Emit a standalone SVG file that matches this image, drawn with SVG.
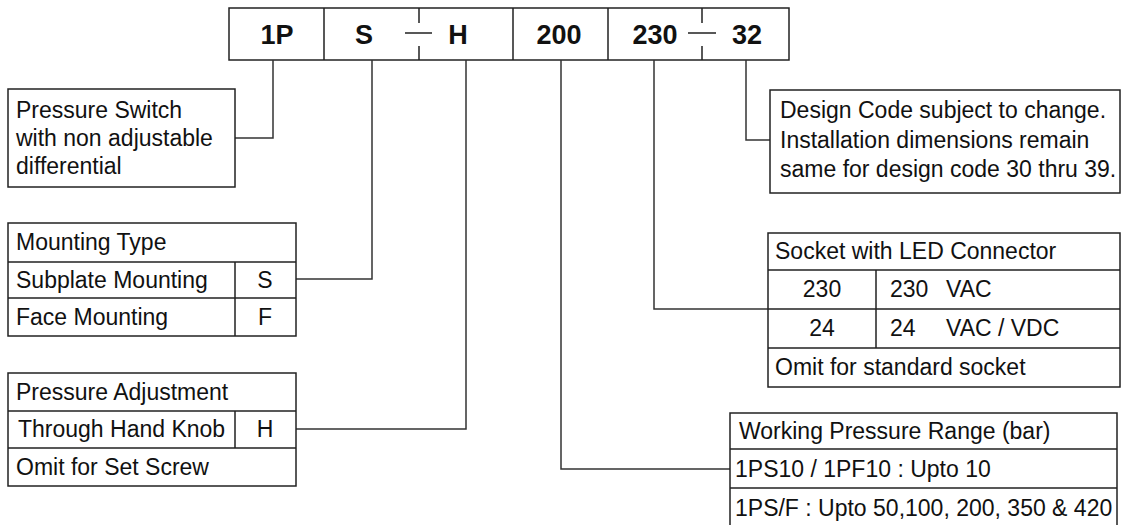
<svg xmlns="http://www.w3.org/2000/svg" width="1122" height="525" viewBox="0 0 1122 525">
<style>
.box{fill:#fff;stroke:#222;stroke-width:1.5}
.ln{fill:none;stroke:#222;stroke-width:1.5}
.cn{fill:none;stroke:#333;stroke-width:1.5}
.t{font-family:"Liberation Sans",Arial,sans-serif;font-size:23px;fill:#111}
.b{font-family:"Liberation Sans",Arial,sans-serif;font-size:27px;font-weight:bold;fill:#111;text-anchor:middle}
.m{text-anchor:middle}
</style>
<rect width="1122" height="525" fill="#fff"/>
<g id="code">
<rect class="box" x="229" y="8" width="560" height="52"/>
<path class="ln" d="M324 8V60M513 8V60M608 8V60M419 8V23M419 46V60M702 8V23M702 46V60M405 33H432M688 33H716"/>
<text class="b" x="277" y="44">1P</text>
<text class="b" x="364" y="44">S</text>
<text class="b" x="458" y="44">H</text>
<text class="b" x="559" y="44">200</text>
<text class="b" x="655" y="44">230</text>
<text class="b" x="747" y="44">32</text>
</g>
<g id="connectors">
<path class="cn" d="M273 60V138H235"/>
<path class="cn" d="M372 60V279H296"/>
<path class="cn" d="M466 60V429H296"/>
<path class="cn" d="M561 60V469H730"/>
<path class="cn" d="M654 60V309H768"/>
<path class="cn" d="M746 60V140H770"/>
</g>
<g id="pressure-switch">
<rect class="box" x="8" y="89" width="227" height="98"/>
<text class="t" x="16" y="118">Pressure Switch</text>
<text class="t" x="16" y="146">with non adjustable</text>
<text class="t" x="16" y="174">differential</text>
</g>
<g id="mounting-type">
<rect class="box" x="8" y="223" width="288" height="113"/>
<path class="ln" d="M8 262H296M8 298H296M235 262V336"/>
<text class="t" x="16" y="250">Mounting Type</text>
<text class="t" x="16" y="288">Subplate Mounting</text>
<text class="t m" x="265" y="288">S</text>
<text class="t" x="16" y="325">Face Mounting</text>
<text class="t m" x="265" y="325">F</text>
</g>
<g id="pressure-adjustment">
<rect class="box" x="8" y="373" width="288" height="113"/>
<path class="ln" d="M8 411H296M8 448H296M235 411V448"/>
<text class="t" x="16" y="400">Pressure Adjustment</text>
<text class="t" x="18" y="437">Through Hand Knob</text>
<text class="t m" x="265" y="437">H</text>
<text class="t" x="16" y="475">Omit for Set Screw</text>
</g>
<g id="design-code">
<rect class="box" x="770" y="90" width="350" height="103"/>
<text class="t" x="780" y="118">Design Code subject to change.</text>
<text class="t" x="780" y="148">Installation dimensions remain</text>
<text class="t" x="780" y="177">same for design code 30 thru 39.</text>
</g>
<g id="socket">
<rect class="box" x="768" y="233" width="352" height="154"/>
<path class="ln" d="M768 270H1120M768 309H1120M768 348H1120M876 270V348"/>
<text class="t" x="775" y="259">Socket with LED Connector</text>
<text class="t m" x="822" y="297">230</text>
<text class="t" x="890" y="297">230</text>
<text class="t" x="946" y="297">VAC</text>
<text class="t m" x="822" y="336">24</text>
<text class="t" x="890" y="336">24</text>
<text class="t" x="946" y="336">VAC / VDC</text>
<text class="t" x="775" y="375">Omit for standard socket</text>
</g>
<g id="working-pressure">
<path class="box" d="M730 527V413H1117V527"/>
<path class="ln" d="M730 449H1117M730 488H1117"/>
<text class="t" x="739" y="439">Working Pressure Range (bar)</text>
<text class="t" x="735" y="477">1PS10 / 1PF10 : Upto 10</text>
<text class="t" x="735" y="516">1PS/F : Upto 50,100, 200, 350 &amp; 420</text>
</g>
</svg>
